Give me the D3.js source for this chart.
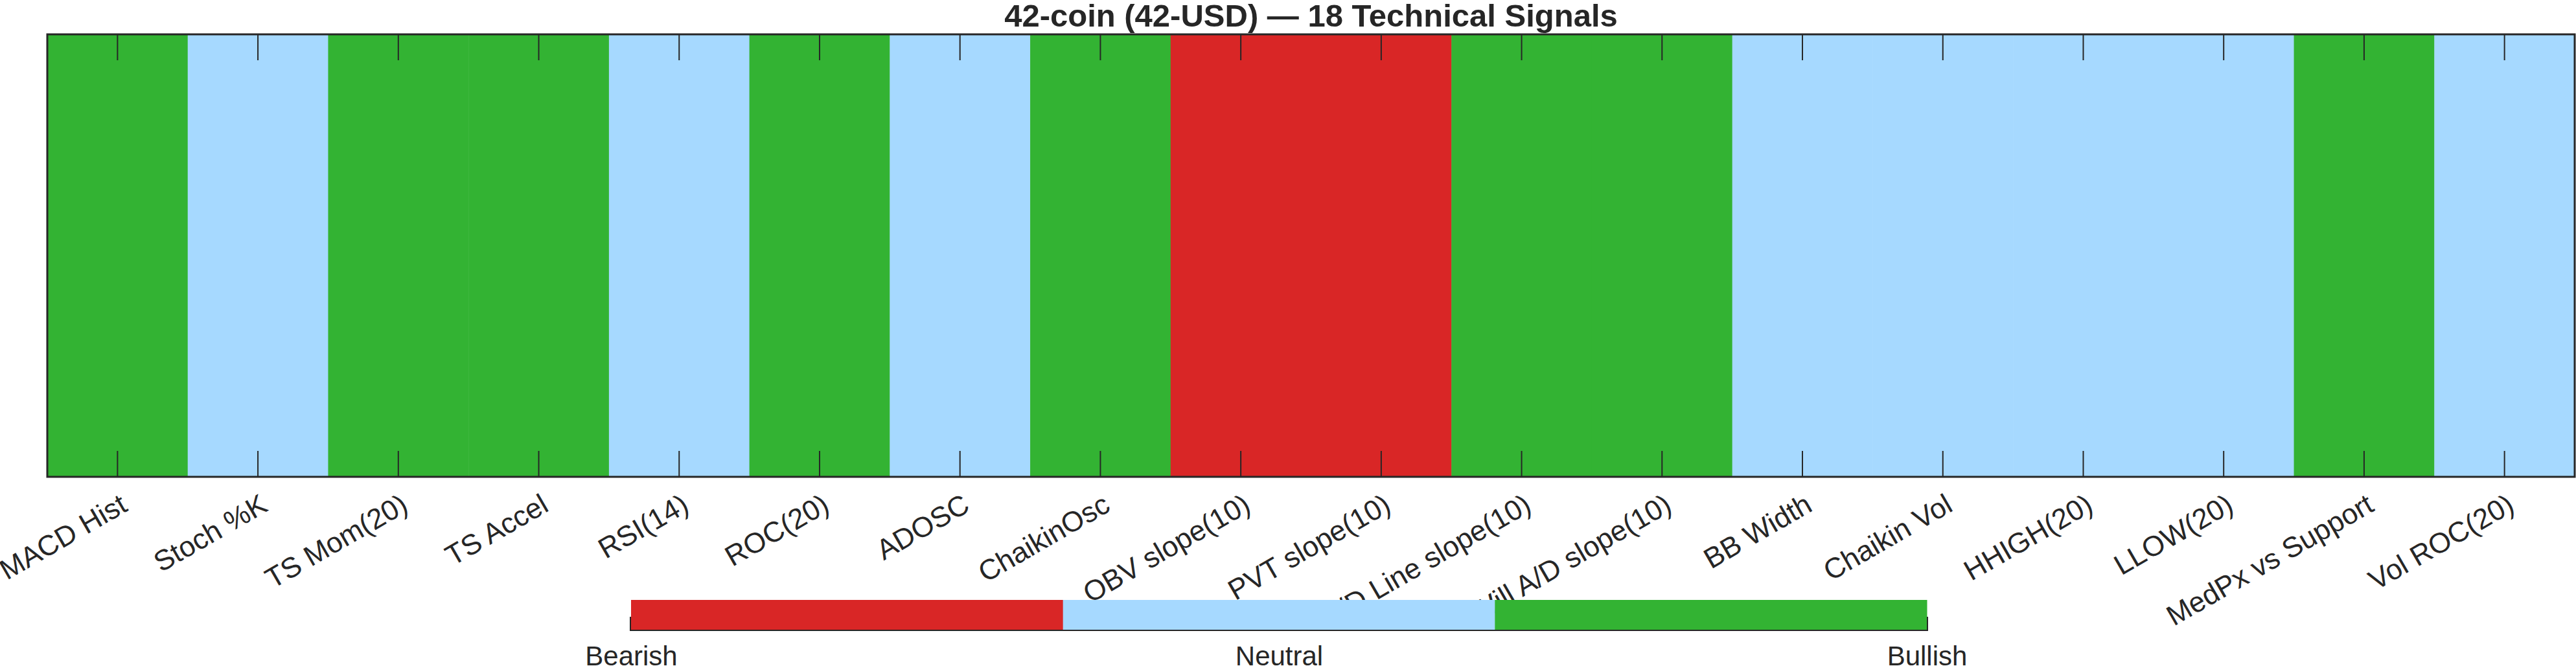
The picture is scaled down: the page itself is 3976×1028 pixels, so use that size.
<!DOCTYPE html>
<html>
<head>
<meta charset="utf-8">
<script src="https://cdn.jsdelivr.net/npm/d3@7"></script>
<style>
  body { margin: 0; background: #fff; }
  text { font-family: "Liberation Sans", Arial, Helvetica, sans-serif; fill: #262626; }
</style>
</head>
<body>
<div id="chart-area"></div>
<script>

// Data
var signals = ["MACD Hist", "Stoch %K", "TS Mom(20)", "TS Accel", "RSI(14)", "ROC(20)",
    "ADOSC", "ChaikinOsc", "OBV slope(10)", "PVT slope(10)", "A/D Line slope(10)",
    "Will A/D slope(10)", "BB Width", "Chaikin Vol", "HHIGH(20)", "LLOW(20)",
    "MedPx vs Support", "Vol ROC(20)"];
// -1 bearish, 0 neutral, 1 bullish
var values = [1, 0, 1, 1, 0, 1, 0, 1, -1, -1, 1, 1, 0, 0, 0, 0, 1, 0];
var stateValues = [-1, 0, 1];
var stateLabels = ["Bearish", "Neutral", "Bullish"];
var stateColors = ["#d92626", "#a6d9ff", "#33b333"];
var title = "42-coin (42-USD) \u2014 18 Technical Signals";

var W = 3976, H = 1028;
var plot = {left: 73, right: 3974, top: 53, bottom: 736};

var svg = d3.select("#chart-area").append("svg")
    .attr("width", W)
    .attr("height", H);

var x = d3.scaleBand()
    .domain(signals)
    .range([plot.left, plot.right]);

var color = d3.scaleOrdinal()
    .domain(stateValues)
    .range(stateColors);

// Cells
svg.append("g").selectAll("rect")
    .data(values)
    .enter().append("rect")
    .attr("x", function(d, i) { return x(signals[i]); })
    .attr("y", plot.top)
    .attr("width", x.bandwidth() + 0.5)
    .attr("height", plot.bottom - plot.top)
    .attr("fill", function(d) { return color(d); });

// Axes (ticks point inward)
var xAxis = d3.axisBottom(x).tickSize(-40).tickPadding(0);
var xAxisTop = d3.axisTop(x).tickSize(-40).tickFormat("");

var gx = svg.append("g")
    .attr("class", "axis x-axis")
    .attr("transform", "translate(0," + plot.bottom + ")")
    .call(xAxis);

gx.select(".domain").remove();
gx.selectAll(".tick line").attr("stroke", "#262626").attr("stroke-width", 2);
gx.selectAll(".tick text")
    .attr("x", 0).attr("y", 0).attr("dy", "0.35em")
    .attr("text-anchor", "end")
    .attr("transform", "translate(10,38) rotate(-30)")
    .style("font-size", "44px")
    .style("font-family", "'Liberation Sans', Arial, sans-serif")
    .attr("fill", "#262626");

var gxt = svg.append("g")
    .attr("transform", "translate(0," + plot.top + ")")
    .call(xAxisTop);
gxt.select(".domain").remove();
gxt.selectAll(".tick line").attr("stroke", "#262626").attr("stroke-width", 2);

// Box
svg.append("rect")
    .attr("x", plot.left)
    .attr("y", plot.top)
    .attr("width", plot.right - plot.left)
    .attr("height", plot.bottom - plot.top)
    .attr("fill", "none")
    .attr("stroke", "#262626")
    .attr("stroke-width", 3);

// Title
svg.append("text")
    .attr("x", (plot.left + plot.right) / 2)
    .attr("y", 41)
    .attr("text-anchor", "middle")
    .style("font-size", "49px")
    .style("font-weight", "bold")
    .text(title);

// Colorbar
var cb = {left: 974, right: 2974, top: 926, bottom: 972};
var cx = d3.scaleLinear().domain([-1, 1]).range([cb.left, cb.right]);
var step = 2 / stateValues.length;

svg.append("g").selectAll("rect")
    .data(stateValues)
    .enter().append("rect")
    .attr("x", function(d, i) { return cx(-1 + i * step); })
    .attr("y", cb.top)
    .attr("width", function(d, i) { return cx(-1 + (i + 1) * step) - cx(-1 + i * step) + 0.5; })
    .attr("height", cb.bottom - cb.top)
    .attr("fill", function(d) { return color(d); });

svg.append("path")
    .attr("d", "M" + (cb.left - 1) + "," + (cb.bottom - 20) + "V" + (cb.bottom + 1) +
        "H" + (cb.right + 1) + "V" + (cb.bottom - 20))
    .attr("fill", "none")
    .attr("stroke", "#262626")
    .attr("stroke-width", 2);

var cAxis = d3.axisBottom(cx)
    .tickValues(stateValues)
    .tickSize(0)
    .tickPadding(25)
    .tickFormat(function(d, i) { return stateLabels[i]; });

var gc = svg.append("g")
    .attr("transform", "translate(0," + cb.bottom + ")")
    .call(cAxis);
gc.select(".domain").remove();
gc.selectAll(".tick text")
    .style("font-size", "42px")
    .style("font-family", "'Liberation Sans', Arial, sans-serif")
    .attr("fill", "#262626");

</script>
</body>
</html>
